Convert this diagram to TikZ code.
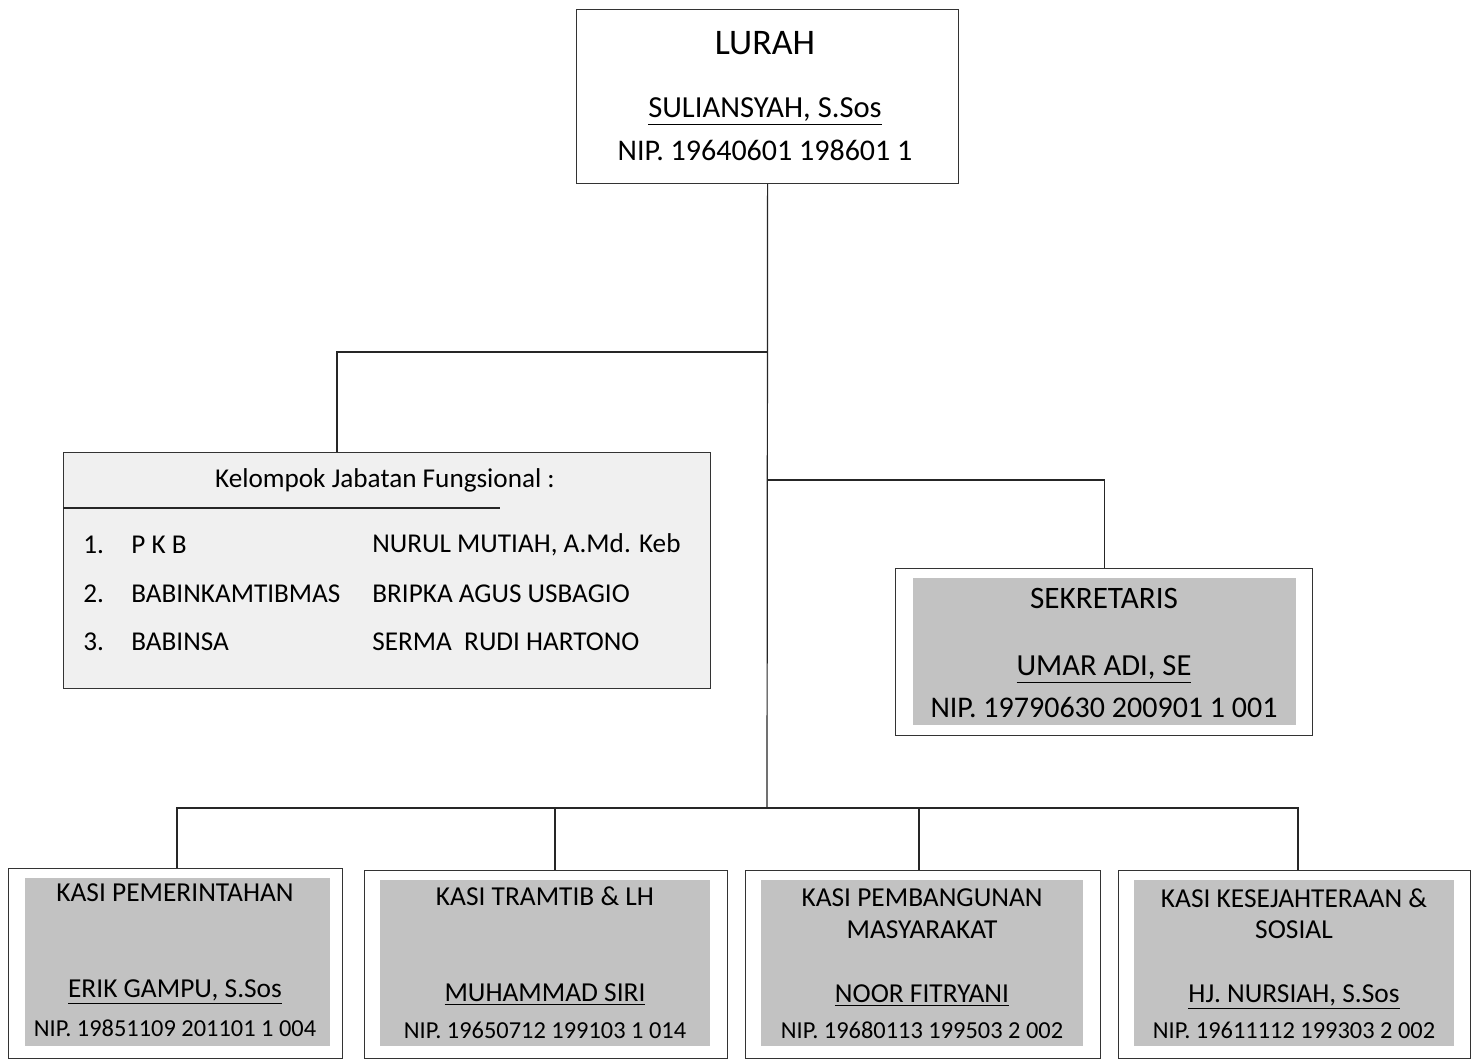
\documentclass[tikz,border=0pt]{standalone}
\usepackage{fontspec}
\setmainfont{Carlito}
\usetikzlibrary{positioning,calc}
\begin{document}
\begin{tikzpicture}[x=0.5pt,y=-0.5pt,
  outer/.style={draw=black!80,line width=0.6pt,fill=white,inner sep=0pt,anchor=north west},
  shade/.style={fill=black!24,draw=none,inner sep=0pt,anchor=north west},
  link/.style={draw=black!85,line width=0.6pt},
  head/.style={font=\fontsize{18}{21}\selectfont,inner sep=0pt},
  big/.style={font=\fontsize{15.3}{18}\selectfont,inner sep=0pt},
  nip/.style={font=\fontsize{15}{18}\selectfont,inner sep=0pt},
  mid/.style={font=\fontsize{13.6}{16}\selectfont,inner sep=0pt},
  btitle/.style={font=\fontsize{13.7}{16}\selectfont,inner sep=0pt},
  small/.style={font=\fontsize{12.2}{15}\selectfont,inner sep=0pt}]
\useasboundingbox (0,0) rectangle (1477,1063);
\fill[white] (0,0) rectangle (1477,1063);
% ---------- boxes ----------
\node[outer,minimum width=191pt,minimum height=87pt] (lurah) at (576,9) {};
\node[outer,fill=black!6,minimum width=323.5pt,minimum height=118pt] (kel) at (63,452) {};
\node[outer,minimum width=208.5pt,minimum height=83.5pt] (sek) at (895,568) {};
\node[shade,minimum width=191.5pt,minimum height=73.5pt] (sekin) at (913,578) {};
\node[outer,minimum width=167pt,minimum height=95pt] (b1) at (8,868) {};
\node[shade,minimum width=152.5pt,minimum height=84pt] (b1in) at (25,878) {};
\node[outer,minimum width=181.5pt,minimum height=94pt] (b2) at (364,870) {};
\node[shade,minimum width=165pt,minimum height=83pt] (b2in) at (380,880) {};
\node[outer,minimum width=177.5pt,minimum height=94pt] (b3) at (745,870) {};
\node[shade,minimum width=161pt,minimum height=83pt] (b3in) at (761,880) {};
\node[outer,minimum width=176pt,minimum height=94pt] (b4) at (1118,870) {};
\node[shade,minimum width=160pt,minimum height=83pt] (b4in) at (1134,880) {};
% ---------- connectors ----------
\coordinate (j1) at (767,352);
\coordinate (j2) at (767,480);
\coordinate (j3) at (767,808);
\coordinate (kdrop) at (337,452);
\coordinate (d1) at (177,868);
\coordinate (d2) at (555,870);
\coordinate (d3) at (919,870);
\coordinate (d4) at (1298,870);
\draw[link] (lurah.south) -- (j3);
\draw[link] (j1) -| (kdrop);
\draw[link] (j2) -| (sek.north);
\draw[link] (j3) -| (d1);
\draw[link] (j3) -| (d2);
\draw[link] (j3) -| (d3);
\draw[link] (j3) -| (d4);
% ---------- LURAH ----------
\node[head] (t1) at (765,43) {LURAH};
\node[big] (t2) at (765,112) {\underline{SULIANSYAH, S.Sos}};
\node[nip] (t3) at (765,150) {NIP. 19640601 198601 1};
% ---------- Kelompok ----------
\node[mid] (k0) at (385,480) {Kelompok Jabatan Fungsional :};
\coordinate (kl1) at (63,508);
\coordinate (kl2) at (500,508);
\draw[link] (kl1) -- (kl2);
\node[mid,anchor=west] (k1a) at (83,545) {1.};
\node[mid,anchor=west] (k1b) at (131,545) {P K B};
\node[mid,anchor=west] (k1c) at (372,545) {NURUL MUTIAH, A.Md. Keb};
\node[mid,anchor=west] (k2a) at (83,594) {2.};
\node[mid,anchor=west] (k2b) at (131,594) {BABINKAMTIBMAS};
\node[mid,anchor=west] (k2c) at (372,594) {BRIPKA AGUS USBAGIO};
\node[mid,anchor=west] (k3a) at (83,642) {3.};
\node[mid,anchor=west] (k3b) at (131,642) {BABINSA};
\node[mid,anchor=west] (k3c) at (372,642) {SERMA\ \ RUDI HARTONO};
% ---------- Sekretaris ----------
\node[big,font=\fontsize{15.6}{18}\selectfont] (s1) at (1104,598) {SEKRETARIS};
\node[big] (s2) at (1104,670) {\underline{UMAR ADI, SE}};
\node[nip] (s3) at (1104,707) {NIP. 19790630 200901 1 001};
% ---------- bottom ----------
\node[btitle] (p1) at (175,893) {KASI PEMERINTAHAN};
\node[btitle] (p2) at (175,992) {\underline{ERIK GAMPU, S.Sos}};
\node[small] (p3) at (175,1028) {NIP. 19851109 201101 1 004};
\node[btitle] (q1) at (545,896) {KASI TRAMTIB \& LH};
\node[btitle] (q2) at (545,995) {\underline{MUHAMMAD SIRI}};
\node[small] (q3) at (545,1030) {NIP. 19650712 199103 1 014};
\node[btitle] (r1) at (922,898) {KASI PEMBANGUNAN};
\node[btitle] (r2) at (922,930) {MASYARAKAT};
\node[btitle] (r3) at (922,996) {\underline{NOOR FITRYANI}};
\node[small] (r4) at (922,1030) {NIP. 19680113 199503 2 002};
\node[btitle] (u1) at (1294,898) {KASI KESEJAHTERAAN \&};
\node[btitle] (u2) at (1294,930) {SOSIAL};
\node[btitle] (u3) at (1294,997) {\underline{HJ. NURSIAH, S.Sos}};
\node[small] (u4) at (1294,1030) {NIP. 19611112 199303 2 002};
\end{tikzpicture}
\end{document}
